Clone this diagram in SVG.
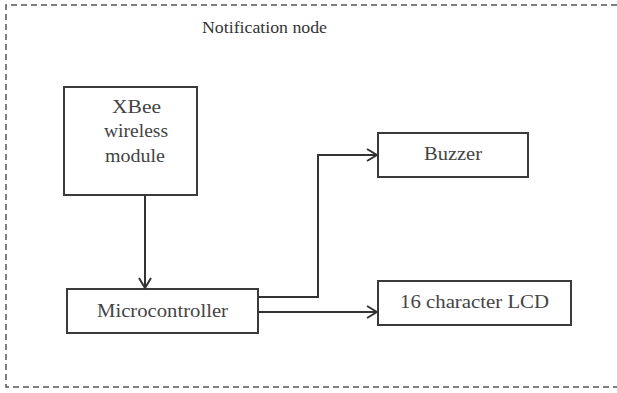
<svg xmlns="http://www.w3.org/2000/svg" width="617" height="393" viewBox="0 0 617 393">
<defs>
<style>
.box{fill:#fff;stroke:#3a3a3a;stroke-width:2}
.conn{fill:none;stroke:#333;stroke-width:2}
.frame{fill:none;stroke:#555;stroke-width:1.5;stroke-dasharray:6 4}
</style>
<marker id="arr" viewBox="0 0 12 14" refX="11" refY="7" markerWidth="12" markerHeight="14" markerUnits="userSpaceOnUse" orient="auto">
<path d="M1,1 L11,7 L1,13" fill="none" stroke="#333" stroke-width="2"/>
</marker>
</defs>
<rect width="617" height="393" fill="#fff"/>
<g font-family="Liberation Serif, Times New Roman, serif" font-size="18" fill="#444">
<g id="frame">
<path class="frame" d="M617,5 H6 V387 H617"/>
<text x="202" y="33" font-size="16" fill="#333" textLength="125" lengthAdjust="spacingAndGlyphs">Notification node</text>
</g>
<g id="xbee">
<rect class="box" x="64" y="87" width="133" height="108"/>
<text x="112" y="113" textLength="49" lengthAdjust="spacingAndGlyphs">XBee</text>
<text x="104" y="137" textLength="64" lengthAdjust="spacingAndGlyphs">wireless</text>
<text x="105" y="162" textLength="60" lengthAdjust="spacingAndGlyphs">module</text>
</g>
<g id="micro">
<rect class="box" x="67" y="289" width="191" height="44"/>
<text x="97" y="317" textLength="131" lengthAdjust="spacingAndGlyphs">Microcontroller</text>
</g>
<g id="buzzer">
<rect class="box" x="378" y="133" width="150" height="44"/>
<text x="424" y="160" textLength="58" lengthAdjust="spacingAndGlyphs">Buzzer</text>
</g>
<g id="lcd">
<rect class="box" x="378" y="281" width="193" height="44"/>
<text x="400" y="308" textLength="149" lengthAdjust="spacingAndGlyphs">16 character LCD</text>
</g>
</g>
<g id="connectors">
<path class="conn" d="M145,195 V288" marker-end="url(#arr)"/>
<path class="conn" d="M258,297 H318 V155 H377" marker-end="url(#arr)"/>
<path class="conn" d="M258,312 H377" marker-end="url(#arr)"/>
</g>
</svg>
